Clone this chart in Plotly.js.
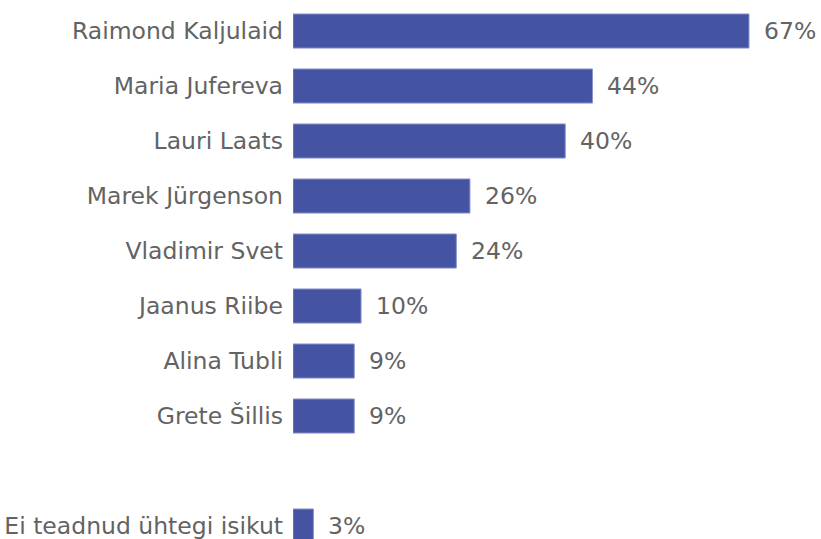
<!DOCTYPE html>
<html>
<head>
<meta charset="utf-8">
<script src="https://cdn.plot.ly/plotly-3.0.1.min.js"></script>
<style>html,body{margin:0;padding:0;background:#fff;}#chart{width:821px;height:539px;}</style>
</head>
<body>
<div id="chart"></div>
<script>
var categories = ["Raimond Kaljulaid", "Maria Jufereva", "Lauri Laats", "Marek Jürgenson", "Vladimir Svet", "Jaanus Riibe", "Alina Tubli", "Grete Šillis", " ", "Ei teadnud ühtegi isikut"];
var names = ["Raimond Kaljulaid", "Maria Jufereva", "Lauri Laats", "Marek Jürgenson", "Vladimir Svet", "Jaanus Riibe", "Alina Tubli", "Grete Šillis", "Ei teadnud ühtegi isikut"];
var values = [67, 44, 40, 26, 24, 10, 9, 9, 3];

var font = "DejaVu Sans, sans-serif";
var textColor = "#636363";

var trace = {
  type: "bar",
  orientation: "h",
  y: names,
  x: values,
  width: 0.62,
  marker: {color: "#4553a3", line: {color: "#8a92cc", width: 1}},
  hoverinfo: "none"
};

var annotations = names.map(function (n, i) {
  return {
    x: values[i], y: n, xref: "x", yref: "y",
    text: values[i] + "%", showarrow: false,
    xanchor: "left", yanchor: "middle", xshift: 13,
    font: {family: font, size: 23.5, color: textColor}
  };
});

var layout = {
  width: 821, height: 539,
  margin: {l: 293, r: 0, t: 0, b: 0},
  paper_bgcolor: "#ffffff", plot_bgcolor: "#ffffff",
  showlegend: false,
  xaxis: {range: [0, 77.58], visible: false, fixedrange: true},
  yaxis: {
    type: "category",
    categoryorder: "array",
    categoryarray: categories,
    range: [9.236, -0.564],
    showgrid: false, zeroline: false, showline: false,
    ticks: "", ticklabelstandoff: 9,
    tickfont: {family: font, size: 23.5, color: textColor}
  },
  annotations: annotations
};

Plotly.newPlot("chart", [trace], layout, {displayModeBar: false, staticPlot: true});
</script>
</body>
</html>
